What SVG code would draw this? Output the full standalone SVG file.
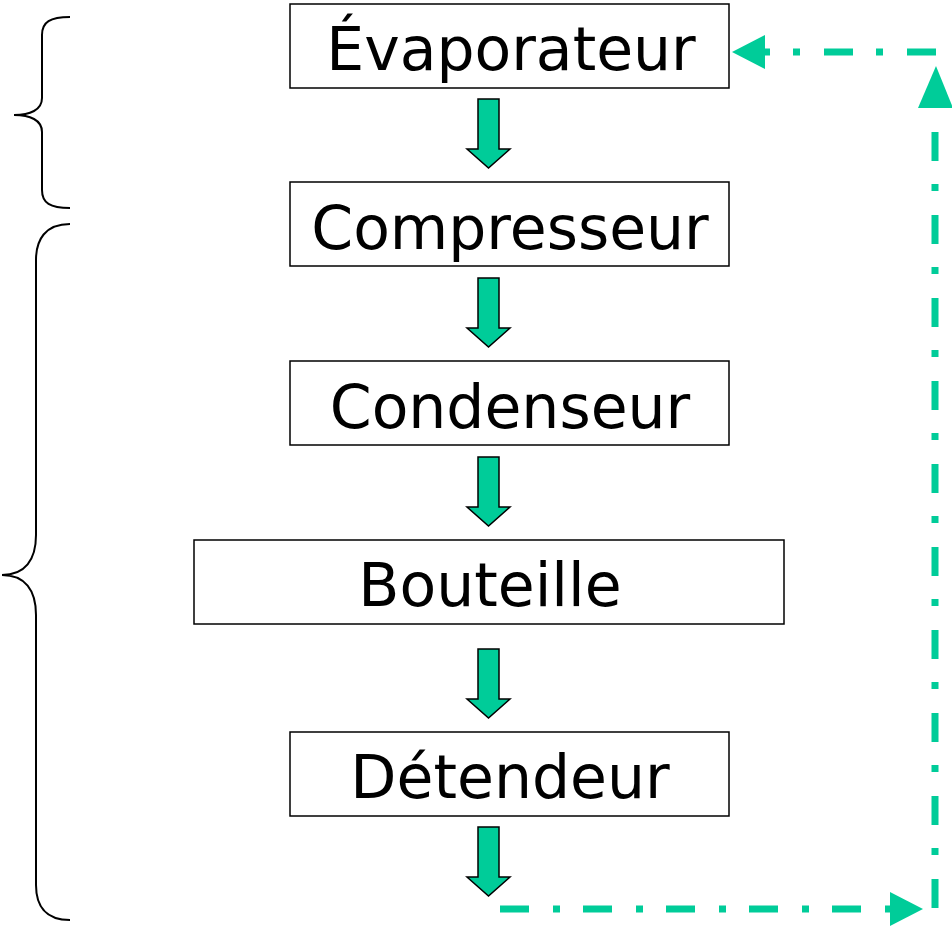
<svg xmlns="http://www.w3.org/2000/svg" width="952" height="930" viewBox="0 0 952 930">
<style>
.box{fill:#fff;stroke:#000;stroke-width:1.5}
.lbl{font-family:"DejaVu Sans",Verdana,sans-serif;font-size:60px;fill:#000;text-anchor:middle}
.blk{fill:#00CC99;stroke:#000;stroke-width:1.5;stroke-linejoin:miter}
.dd{fill:none;stroke:#00CC99;stroke-width:7;stroke-dasharray:29 24 7 23}
.head{fill:#00CC99}
.brace{fill:none;stroke:#000;stroke-width:2}
</style>
<defs>
<path id="ba" d="M-10.5,0 H10.5 V50 H21.5 L0,69 L-21.5,50 H-10.5 Z"/>
</defs>
<g id="evaporateur"><rect class="box" x="290" y="4" width="439" height="84"/><text class="lbl" x="511" y="70">Évaporateur</text></g>
<g id="compresseur"><rect class="box" x="290" y="182" width="439" height="84"/><text class="lbl" x="510" y="249">Compresseur</text></g>
<g id="condenseur"><rect class="box" x="290" y="361" width="439" height="84"/><text class="lbl" x="510" y="428">Condenseur</text></g>
<g id="bouteille"><rect class="box" x="194" y="540" width="590" height="84"/><text class="lbl" x="490" y="606">Bouteille</text></g>
<g id="detendeur"><rect class="box" x="290" y="732" width="439" height="84"/><text class="lbl" x="510" y="798">Détendeur</text></g>
<g id="braces">
<path class="brace" d="M70,17 C50,17 42,22 42,35 V98 C42,110 30,115 14,115 C30,115 42,120 42,132 V190 C42,203 50,208 70,208"/>
<path class="brace" d="M70,224 C45,224 36,240 36,260 V535 C36,560 25,575 2,575 C25,575 36,590 36,615 V885 C36,905 45,920 70,920"/>
</g>
<g id="connectors">
<use href="#ba" class="blk" x="488.5" y="99"/>
<use href="#ba" class="blk" x="488.5" y="278"/>
<use href="#ba" class="blk" x="488.5" y="457"/>
<use href="#ba" class="blk" x="488.5" y="649"/>
<use href="#ba" class="blk" x="488.5" y="827"/>
<path class="dd" d="M500,909 H890"/>
<polygon class="head" points="890,892 923,909 890,926"/>
<path class="dd" d="M935,908 V108"/>
<polygon class="head" points="918,108 936,66 953,108"/>
<path class="dd" d="M936,52 H765"/>
<polygon class="head" points="765,35 732,52 765,69"/>
</g>
</svg>
